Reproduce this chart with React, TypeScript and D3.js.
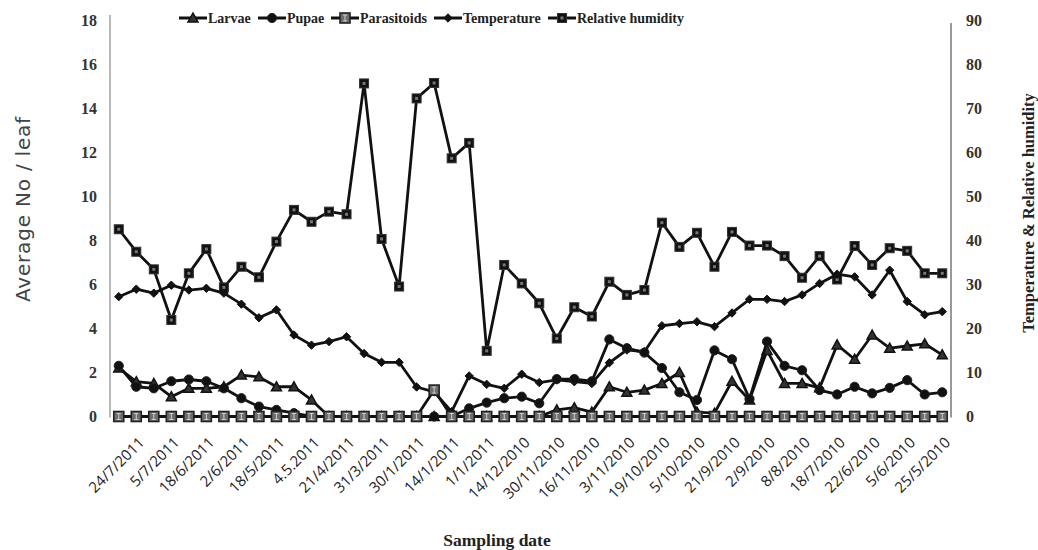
import React from "react";
import * as d3 from "d3";

const tickLabels = [
  "24/7/2011", "5/7/2011", "18/6/2011", "2/6/2011", "18/5/2011", "4.5.2011",
  "21/4/2011", "31/3/2011", "30/1/2011", "14/1/2011", "1/1/2011", "14/12/2010",
  "30/11/2010", "16/11/2010", "3/11/2010", "19/10/2010", "5/10/2010", "21/9/2010",
  "2/9/2010", "8/8/2010", "18/7/2010", "22/6/2010", "5/6/2010", "25/5/2010",
];

const larvae = [
  2.2, 1.58, 1.5, 0.9, 1.28, 1.28, 1.35, 1.88, 1.8, 1.35, 1.35, 0.75,
  0, 0, 0, 0, 0, 0, 0, 0, 0, 0, 0, 0,
  0, 0.3, 0.4, 0.2, 1.35, 1.1, 1.2, 1.5, 2.0, 0.2, 0.15, 1.6,
  0.75, 3.0, 1.5, 1.5, 1.3, 3.25, 2.6, 3.7, 3.1, 3.2, 3.3, 2.8,
];

const pupae = [
  2.3, 1.35, 1.28, 1.6, 1.68, 1.6, 1.28, 0.83, 0.45, 0.3, 0.15, 0,
  0, 0, 0, 0, 0, 0, 0, 0, 0.37, 0.63, 0.83, 0.9,
  0.6, 1.7, 1.7, 1.6, 3.5, 3.1, 2.9, 2.2, 1.1, 0.75, 3.0, 2.6,
  0.8, 3.4, 2.3, 2.1, 1.2, 1.0, 1.35, 1.05, 1.3, 1.65, 1.0, 1.1,
];

const parasitoids = [
  0, 0, 0, 0, 0, 0, 0, 0, 0, 0, 0, 0,
  0, 0, 0, 0, 0, 0, 1.2, 0, 0, 0, 0, 0,
  0, 0, 0, 0, 0, 0, 0, 0, 0, 0, 0, 0,
  0, 0, 0, 0, 0, 0, 0, 0, 0, 0, 0, 0,
];

const temperature = [
  27.2, 28.9, 28.0, 29.8, 28.7, 29.1, 28.0, 25.5, 22.4, 24.2, 18.5, 16.2,
  17.0, 18.1, 14.3, 12.3, 12.3, 6.7, 5.6, 1.1, 9.2, 7.3, 6.4, 9.6,
  7.7, 8.3, 7.9, 7.5, 12.2, 15.1, 14.7, 20.6, 21.1, 21.5, 20.4, 23.5,
  26.6, 26.6, 26.1, 27.6, 30.2, 32.3, 31.7, 27.6, 33.2, 26.1, 23.1, 23.8,
];

const humidity = [
  42.5, 37.4, 33.4, 21.9, 32.5, 38.0, 29.3, 34.0, 31.6, 39.7, 46.9, 44.2,
  46.5, 45.9, 75.6, 40.3, 29.5, 72.2, 75.7, 58.6, 62.1, 14.9, 34.4, 30.2,
  25.7, 17.7, 24.8, 22.7, 30.6, 27.6, 28.7, 44.0, 38.5, 41.7, 34.0, 41.9,
  38.8, 38.8, 36.4, 31.5, 36.4, 31.1, 38.7, 34.4, 38.2, 37.6, 32.5, 32.5,
];

const leftTicks = [0, 2, 4, 6, 8, 10, 12, 14, 16, 18];
const rightTicks = [0, 10, 20, 30, 40, 50, 60, 70, 80, 90];

const legendNames = ["Larvae", "Pupae", "Parasitoids", "Temperature", "Relative humidity"];

const W = 1038;
const H = 550;
const plotLeft = 110;
const plotRight = 951;
const plotBottom = 416.5;
const plotTop = 20;

const serif = "'Liberation Serif', 'Times New Roman', serif";
const sans = "'Open Sans', 'DejaVu Sans', sans-serif";

type MarkerKind = "triangle" | "circle" | "psquare" | "diamond" | "rsquare";

function Marker({ kind, x, y }: { kind: MarkerKind; x: number; y: number }) {
  if (kind === "triangle") {
    const s = 5;
    return (
      <path
        d={`M${x},${y - s} L${x + s},${y + s * 0.8} L${x - s},${y + s * 0.8} Z`}
        fill="#333"
        stroke="#111"
        strokeWidth={1.5}
      />
    );
  }
  if (kind === "circle") {
    return <circle cx={x} cy={y} r={4.6} fill="#111" stroke="#222" strokeWidth={1} />;
  }
  if (kind === "psquare") {
    return (
      <g>
        <rect x={x - 5} y={y - 5} width={10} height={10} fill="#6e6e6e" stroke="#222" strokeWidth={1.6} />
        <path d={`M${x - 2},${y - 3} H${x + 2} M${x},${y - 3} V${y + 3} M${x - 2},${y + 3} H${x + 2}`} stroke="#d0d0d0" strokeWidth={1} fill="none" />
      </g>
    );
  }
  if (kind === "diamond") {
    const s = 4.2;
    return (
      <path
        d={`M${x},${y - s} L${x + s},${y} L${x},${y + s} L${x - s},${y} Z`}
        fill="#111"
        stroke="#111"
        strokeWidth={1}
      />
    );
  }
  return (
    <g>
      <rect x={x - 4.5} y={y - 4.5} width={9} height={9} fill="#111" stroke="#333" strokeWidth={1} />
      <rect x={x - 1.5} y={y - 1.5} width={3} height={3} fill="#777" />
    </g>
  );
}

export default function App() {
  const n = humidity.length;
  const band = (plotRight - plotLeft) / n;
  const xPos = (i: number) => plotLeft + band * (i + 0.5);

  const yLeft = d3.scaleLinear().domain([0, 18]).range([plotBottom, plotTop]);
  const yRight = d3.scaleLinear().domain([0, 90]).range([plotBottom, plotTop]);

  const series: { name: string; data: number[]; scale: d3.ScaleLinear<number, number>; kind: MarkerKind }[] = [
    { name: legendNames[4], data: humidity, scale: yRight, kind: "rsquare" },
    { name: legendNames[3], data: temperature, scale: yRight, kind: "diamond" },
    { name: legendNames[0], data: larvae, scale: yLeft, kind: "triangle" },
    { name: legendNames[1], data: pupae, scale: yLeft, kind: "circle" },
    { name: legendNames[2], data: parasitoids, scale: yLeft, kind: "psquare" },
  ];

  const legendKinds: MarkerKind[] = ["triangle", "circle", "psquare", "diamond", "rsquare"];
  const legendX = [179, 258, 331, 434, 548];

  return (
    <svg width={W} height={H} style={{ position: "absolute", left: 0, top: 0, background: "#fff" }}>
      {/* axes lines */}
      <line x1={plotLeft} x2={plotLeft} y1={15} y2={plotBottom + 1} stroke="#888" strokeWidth={1.2} />
      <line x1={plotRight} x2={plotRight} y1={23} y2={plotBottom + 1} stroke="#777" strokeWidth={1.5} />

      {/* left tick labels */}
      {leftTicks.map((t) => (
        <text key={"l" + t} x={97} y={yLeft(t)} dy="0.35em" textAnchor="end" fontFamily={serif} fontWeight="bold" fontSize={16} fill="#333">
          {t}
        </text>
      ))}
      {/* right tick labels */}
      {rightTicks.map((t) => (
        <text key={"r" + t} x={966} y={yRight(t)} dy="0.35em" textAnchor="start" fontFamily={serif} fontWeight="bold" fontSize={16} fill="#333">
          {t}
        </text>
      ))}

      {/* axis titles */}
      <text transform={`translate(23,${209}) rotate(-90)`} textAnchor="middle" dominantBaseline="central" fontFamily="'DejaVu Sans', sans-serif" fontSize={20} letterSpacing={0.8} fill="#444">
        Average No / leaf
      </text>
      <text transform={`translate(1028,${213}) rotate(-90)`} textAnchor="middle" dominantBaseline="central" fontFamily={serif} fontWeight="bold" fontSize={16.5} fill="#222">
        Temperature &amp; Relative humidity
      </text>
      <text x={497} y={546} textAnchor="middle" fontFamily={serif} fontWeight="bold" fontSize={17.5} fill="#222">
        Sampling date
      </text>

      {/* x tick labels on every other category */}
      {tickLabels.map((lab, k) => {
        const i = 2 * k + 1;
        const x = xPos(i) + 9;
        const y = plotBottom + 27;
        return (
          <text key={lab + k} transform={`translate(${x},${y}) rotate(-45)`} textAnchor="end" fontFamily={sans} fontSize={15} fill="#222">
            {lab}
          </text>
        );
      })}

      {/* series */}
      {series.map((s) => {
        const line = d3
          .line<number>()
          .x((_, i) => xPos(i))
          .y((v) => s.scale(v));
        return (
          <g key={s.name}>
            <path d={line(s.data) || ""} fill="none" stroke="#111" strokeWidth={2.8} strokeLinejoin="round" />
            {s.data.map((v, i) => (
              <Marker key={i} kind={s.kind} x={xPos(i)} y={s.scale(v)} />
            ))}
          </g>
        );
      })}

      {/* legend */}
      {legendNames.map((name, k) => {
        const x0 = legendX[k];
        const y0 = 18;
        return (
          <g key={name}>
            <line x1={x0} x2={x0 + 28} y1={y0} y2={y0} stroke="#111" strokeWidth={3} />
            <Marker kind={legendKinds[k]} x={x0 + 14} y={y0} />
            <text x={x0 + 29} y={y0} dy="0.35em" fontFamily={serif} fontWeight="bold" fontSize={14} fill="#222">
              {name}
            </text>
          </g>
        );
      })}
    </svg>
  );
}
